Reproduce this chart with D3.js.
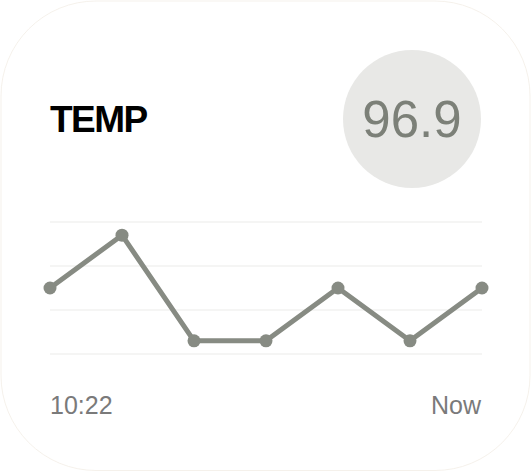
<!DOCTYPE html>
<html>
<head>
<meta charset="utf-8">
<script src="https://cdn.jsdelivr.net/npm/d3@7"></script>
<style>
  html, body { margin: 0; padding: 0; background: #fff; }
  svg { display: block; }
</style>
</head>
<body>
<svg id="card" width="532" height="472"></svg>
<script>
// readings, oldest first
const times = ["10:22", "", "", "", "", "", "Now"];
const temps = [96.9, 97.5, 96.3, 96.3, 96.9, 96.3, 96.9];
const gridTicks = [96.15, 96.65, 97.15, 97.65];
const current = "96.9";
const title = "TEMP";

const width = 532, height = 472;
const margin = {left: 50, right: 50};
const lineColor = "#878b83";

const svg = d3.select("#card");

// card background, edge barely visible
svg.append("rect")
    .attr("x", 1).attr("y", 1)
    .attr("width", width - 3).attr("height", height - 2.5)
    .attr("rx", 95).attr("ry", 95)
    .attr("fill", "#fff")
    .attr("stroke", "#f1ebe2")
    .attr("stroke-width", 0.7);

svg.append("text")
    .attr("x", 50).attr("y", 132)
    .attr("font-family", "Liberation Sans, Arial, sans-serif")
    .attr("font-weight", "bold")
    .attr("font-size", 37)
    .attr("letter-spacing", -1.5)
    .attr("fill", "#000")
    .text(title);

// current value bubble
svg.append("circle")
    .attr("cx", 412).attr("cy", 119).attr("r", 69)
    .attr("fill", "#e8e8e6");
svg.append("text")
    .attr("x", 412).attr("y", 137)
    .attr("text-anchor", "middle")
    .attr("font-family", "Liberation Sans, Arial, sans-serif")
    .attr("font-size", 51)
    .attr("fill", "#7c8078")
    .text(current);

let x = d3.scalePoint()
    .domain(d3.range(temps.length))
    .range([margin.left, width - margin.right]);

let y = d3.scaleLinear()
    .domain([96.15, 97.65])
    .range([354, 222]);

// grid
svg.append("g")
    .selectAll("line").data(gridTicks).enter().append("line")
    .attr("x1", margin.left).attr("x2", width - margin.right)
    .attr("y1", d => y(d)).attr("y2", d => y(d))
    .attr("stroke", "#f2f2f0")
    .attr("stroke-width", 1.5);

let line = d3.line()
    .x((d, i) => x(i))
    .y(d => y(d));

svg.append("path")
    .datum(temps)
    .attr("d", line)
    .attr("fill", "none")
    .attr("stroke", lineColor)
    .attr("stroke-width", 5)
    .attr("stroke-linejoin", "round");

svg.append("g")
    .attr("fill", lineColor)
    .selectAll("circle").data(temps).enter().append("circle")
    .attr("cx", (d, i) => x(i))
    .attr("cy", d => y(d))
    .attr("r", 6.5);

// time labels at the ends
svg.append("g")
    .selectAll("text").data(times.map((t, i) => ({t, i})).filter(d => d.t)).enter().append("text")
    .attr("x", d => d.i === 0 ? x(d.i) : x(d.i) - 1)
    .attr("y", 414)
    .attr("text-anchor", d => d.i === 0 ? "start" : "end")
    .attr("font-family", "Liberation Sans, Arial, sans-serif")
    .attr("font-size", 25)
    .attr("fill", "#7a7a7a")
    .text(d => d.t);
</script>
</body>
</html>
